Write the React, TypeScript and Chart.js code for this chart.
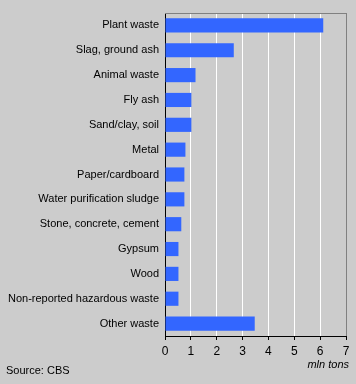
import React, { useEffect, useRef } from "react";
import { Chart, registerables } from "chart.js";

Chart.register(...registerables);

const categories = [
  "Plant waste",
  "Slag, ground ash",
  "Animal waste",
  "Fly ash",
  "Sand/clay, soil",
  "Metal",
  "Paper/cardboard",
  "Water purification sludge",
  "Stone, concrete, cement",
  "Gypsum",
  "Wood",
  "Non-reported hazardous waste",
  "Other waste",
];
const values = [6.12, 2.66, 1.18, 1.02, 1.02, 0.79, 0.75, 0.75, 0.63, 0.52, 0.52, 0.52, 3.47];
const xTicks = [0, 1, 2, 3, 4, 5, 6, 7];
const unitLabel = "mln tons";
const sourceLabel = "Source: CBS";

const FONT = "'Liberation Sans', Arial, sans-serif";

export default function App() {
  const ref = useRef<HTMLCanvasElement | null>(null);
  useEffect(() => {
    document.body.style.margin = "0";
    document.body.style.background = "#cccccc";
    const canvas = ref.current!;
    const textPlugin = {
      id: "texts",
      beforeDraw(chart: any) {
        const { ctx } = chart;
        ctx.save();
        ctx.fillStyle = "#cccccc";
        ctx.fillRect(0, 0, chart.width, chart.height);
        ctx.restore();
      },
      afterDraw(chart: any) {
        const { ctx, chartArea } = chart;
        ctx.save();
        ctx.strokeStyle = "#808080";
        ctx.lineWidth = 1;
        ctx.beginPath();
        ctx.moveTo(chartArea.left, chartArea.top + 0.5);
        ctx.lineTo(chartArea.right + 0.5, chartArea.top + 0.5);
        ctx.lineTo(chartArea.right + 0.5, chartArea.bottom);
        ctx.stroke();
        ctx.fillStyle = "#000";
        ctx.font = `italic 11px ${FONT}`;
        ctx.textAlign = "right";
        ctx.textBaseline = "middle";
        ctx.fillText(unitLabel, 349, 365);
        ctx.font = `11px ${FONT}`;
        ctx.textAlign = "left";
        ctx.fillText(sourceLabel, 6, 371);
        ctx.restore();
      },
    };
    const chart = new Chart(canvas, {
      type: "bar",
      data: {
        labels: categories,
        datasets: [
          {
            data: values,
            backgroundColor: "#3366ff",
            borderWidth: 0,
            categoryPercentage: 1,
            barPercentage: 0.57,
          },
        ],
      },
      plugins: [textPlugin],
      options: {
        indexAxis: "y",
        animation: false,
        responsive: false,
        devicePixelRatio: 1,
        layout: { padding: { top: 13, right: 10, left: 0, bottom: 0 } },
        plugins: {
          legend: { display: false },
          tooltip: { enabled: false },
        },
        scales: {
          x: {
            min: 0,
            max: 7,
            afterFit(scale: any) {
              scale.height = 48;
            },
            afterBuildTicks(scale: any) {
              scale.ticks = xTicks.map((v) => ({ value: v }));
            },
            grid: {
              color: (c: any) => (c.tick && c.tick.value === 7 ? "#808080" : "#ffffff"),
              tickColor: "#000000",
              tickLength: 4,
              lineWidth: 1,
            },
            border: { color: "#000000", width: 1 },
            ticks: {
              color: "#000",
              font: { family: FONT, size: 12 },
              padding: 4,
              maxRotation: 0,
            },
          },
          y: {
            afterFit(scale: any) {
              scale.width = 165;
            },
            grid: { display: false, drawTicks: false },
            border: { color: "#000000", width: 1 },
            ticks: {
              color: "#000",
              font: { family: FONT, size: 11 },
              padding: 6,
              autoSkip: false,
            },
          },
        },
      },
    } as any);
    return () => chart.destroy();
  }, []);
  return <canvas ref={ref} width={356} height={384} style={{ display: "block" }} />;
}
